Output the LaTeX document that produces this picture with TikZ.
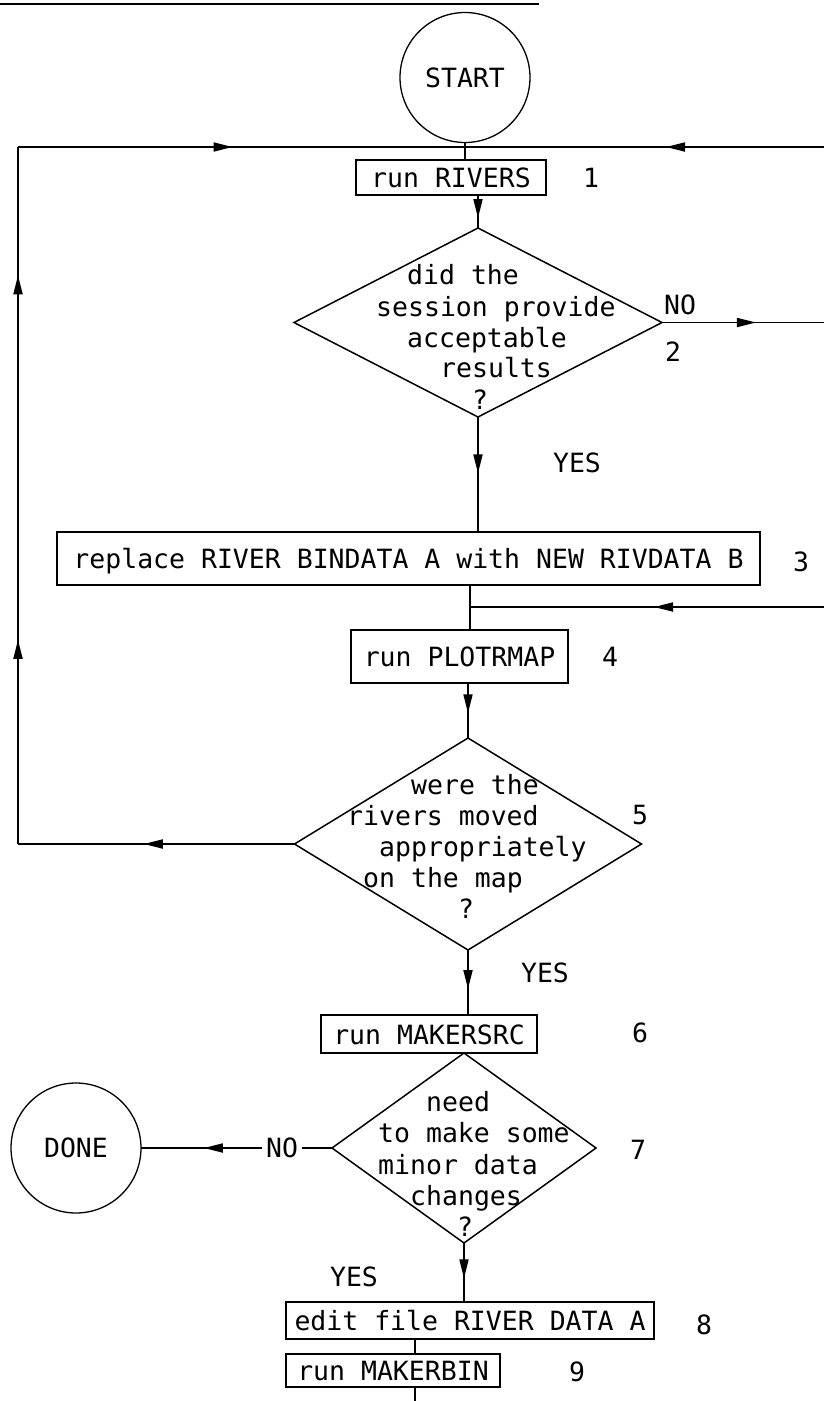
\documentclass[tikz,border=0pt]{standalone}
\usepackage{fontspec}
\setmonofont{DejaVu Sans Mono}
\usetikzlibrary{arrows.meta,decorations.markings,shapes.geometric}
\begin{document}
\begin{tikzpicture}[x=1pt,y=-1pt,
  font=\ttfamily\fontsize{26.5}{31}\selectfont,
  ln/.style={line width=1.8pt},
  box/.style={draw,line width=1.7pt,inner sep=0pt,outer sep=0pt,text height=20pt,text depth=0pt},
  dia/.style={draw,diamond,line width=1.5pt,inner sep=0pt,outer sep=0pt},
  circ/.style={draw,circle,line width=1.3pt,minimum size=130pt,inner sep=0pt,outer sep=0pt},
  txt/.style={anchor=base west,inner sep=0pt},
  lbl/.style={inner sep=0pt},
  arr/.style={postaction={decorate,decoration={markings,mark=at position #1 with {\arrow{Triangle[length=19pt,width=9pt]}}}}},
]
\fill[white] (0,0) rectangle (824,1401);
\useasboundingbox (0,0) rectangle (824,1401);

% top rule
\coordinate (TL0) at (0,4);
\coordinate (TL1) at (539,4);
\draw[ln] (TL0) -- (TL1);

% nodes
\node[circ] (start) at (465,77.5) {START};
\node[box,minimum width=190pt,minimum height=35pt] (b1) at (451,177.5) {run RIVERS};
\node[lbl] (n1) at (591,178) {1};

\node[dia,minimum width=368pt,minimum height=189pt] (d2) at (478,322.5) {};
\node[txt] (t2a) at (407,284) {did the};
\node[txt] (t2b) at (376,316) {session provide};
\node[txt] (t2c) at (407,347) {acceptable};
\node[txt] (t2d) at (440,377) {results};
\node[txt] (t2e) at (472,409) {?};
\node[lbl] (no2) at (680,305) {NO};
\node[lbl] (n2) at (673,352) {2};
\node[lbl] (yes2) at (577,463) {YES};

\node[box,minimum width=703pt,minimum height=53pt] (b3) at (408.5,558.5) {replace RIVER BINDATA A with NEW RIVDATA B};
\node[lbl] (n3) at (801,562) {3};

\node[box,minimum width=217pt,minimum height=53pt] (b4) at (459.5,656.5) {run PLOTRMAP};
\node[lbl] (n4) at (610,657) {4};

\node[dia,minimum width=347pt,minimum height=212pt] (d5) at (468,844) {};
\node[txt] (t5a) at (411,794) {were the};
\node[txt] (t5b) at (347,825) {rivers moved};
\node[txt] (t5c) at (379,856) {appropriately};
\node[txt] (t5d) at (363,887) {on the map};
\node[txt] (t5e) at (458,918) {?};
\node[lbl] (n5) at (640,815) {5};
\node[lbl] (yes5) at (545,973) {YES};

\node[box,minimum width=216pt,minimum height=38pt] (b6) at (429,1034) {run MAKERSRC};
\node[lbl] (n6) at (640,1033) {6};

\node[dia,minimum width=264pt,minimum height=190pt] (d7) at (464,1148) {};
\node[txt] (t7a) at (426,1111) {need};
\node[txt] (t7b) at (378,1142) {to make some};
\node[txt] (t7c) at (378,1174) {minor data};
\node[txt] (t7d) at (410,1205) {changes};
\node[txt] (t7e) at (457,1236) {?};
\node[lbl] (n7) at (638,1150) {7};
\node[circ] (done) at (76,1148) {DONE};
\node[lbl,inner sep=4pt] (no7) at (282,1148) {NO};
\node[lbl] (yes7) at (354,1277) {YES};

\node[box,minimum width=368pt,minimum height=37pt] (b8) at (470,1320.5) {edit file RIVER DATA A};
\node[lbl] (n8) at (704,1325) {8};
\node[box,minimum width=214pt,minimum height=33pt] (b9) at (393,1370.5) {run MAKERBIN};
\node[lbl] (n9) at (577,1372) {9};

% connector coordinates
\coordinate (J1) at (465,147);
\coordinate (L2) at (18,147);
\coordinate (L1) at (18,844);
\coordinate (R1) at (824,147);
\coordinate (R2) at (824,322.5);
\coordinate (J3) at (470,607);
\coordinate (R3) at (824,607);
\coordinate (X89) at (415,1401);

% connectors
\draw[ln] (start.south) -- (b1.north -| start.south);
\draw[ln,arr=0.48] (L2) -- (J1);
\draw[ln,arr=0.44] (R1) -- (J1);
\draw[ln,arr=0.7] (b1.south -| d2.north) -- (d2.north);
\draw[ln,arr=0.58] (d2.east) -- (R2);
\draw[ln,arr=0.49] (d2.south) -- (b3.north -| d2.south);
\draw[ln] (b3.south -| J3) -- (J3) -- (b4.north -| J3);
\draw[ln,arr=0.48] (R3) -- (J3);
\draw[ln,arr=0.55] (b4.south -| d5.north) -- (d5.north);
\draw[ln,arr=0.545] (d5.west) -- (L1);
\draw[ln,postaction={decorate,decoration={markings,
   mark=at position 0.293 with {\arrow{Triangle[length=19pt,width=9pt]}},
   mark=at position 0.816 with {\arrow{Triangle[length=19pt,width=9pt]}}}}] (L1) -- (L2);
\draw[ln,arr=0.6] (d5.south) -- (b6.north -| d5.south);
\draw[ln] (d7.west) -- (no7.east);
\draw[ln,arr=0.48] (no7.west) -- (done.east);
\draw[ln,arr=0.6] (d7.south) -- (b8.north -| d7.south);
\draw[ln] (b8.south -| X89) -- (b9.north -| X89);
\draw[ln] (b9.south -| X89) -- (X89);
\end{tikzpicture}
\end{document}
